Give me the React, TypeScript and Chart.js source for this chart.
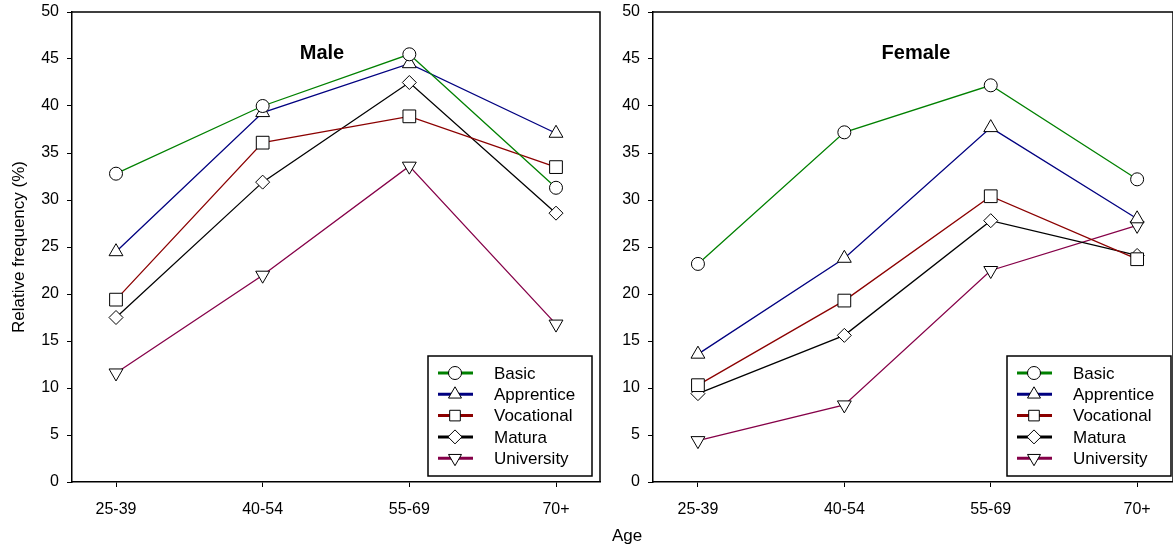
import React, { useEffect, useRef } from 'react';
import { Chart, registerables } from 'chart.js';

Chart.register(...registerables);

const FONT = 'Arial, "Liberation Sans", sans-serif';

// ---- data ----
const ageGroups = ['25-39', '40-54', '55-69', '70+'];
const seriesNames = ['Basic', 'Apprentice', 'Vocational', 'Matura', 'University'];
const seriesColors = ['#008000', '#000080', '#8b0000', '#000000', '#850048'];
const seriesStyles = ['circle', 'triangle', 'rect', 'rectRot', 'triangle'];
const seriesRotation = [0, 0, 0, 0, 180];
const seriesRadius = [6.5, 8, 9, 7, 8];

const maleBasic = [32.8, 40.0, 45.5, 31.3];
const maleApprentice = [24.5, 39.3, 44.5, 37.1];
const maleVocational = [19.4, 36.1, 38.9, 33.5];
const maleMatura = [17.5, 31.9, 42.5, 28.6];
const maleUniversity = [11.6, 22.0, 33.6, 16.8];

const femaleBasic = [23.2, 37.2, 42.2, 32.2];
const femaleApprentice = [13.6, 23.8, 37.7, 28.0];
const femaleVocational = [10.3, 19.3, 30.4, 23.7];
const femaleMatura = [9.4, 15.6, 27.8, 24.1];
const femaleUniversity = [4.4, 8.2, 22.5, 27.3];

const maleSeries = [maleBasic, maleApprentice, maleVocational, maleMatura, maleUniversity];
const femaleSeries = [femaleBasic, femaleApprentice, femaleVocational, femaleMatura, femaleUniversity];

const yTickValues = [0, 5, 10, 15, 20, 25, 30, 35, 40, 45, 50];

function drawMarker(ctx: CanvasRenderingContext2D, style: string, rot: number, r: number, x: number, y: number) {
  ctx.beginPath();
  if (style === 'circle') {
    ctx.arc(x, y, r, 0, Math.PI * 2);
  } else if (style === 'triangle') {
    let rad = (rot * Math.PI) / 180;
    for (let i = 0; i < 3; i++) {
      const px = x + Math.sin(rad) * r;
      const py = y - Math.cos(rad) * r;
      if (i === 0) ctx.moveTo(px, py);
      else ctx.lineTo(px, py);
      rad += (2 * Math.PI) / 3;
    }
    ctx.closePath();
  } else if (style === 'rect') {
    const s = Math.SQRT1_2 * r;
    ctx.rect(x - s, y - s, 2 * s, 2 * s);
  } else if (style === 'rectRot') {
    ctx.moveTo(x, y - r);
    ctx.lineTo(x + r, y);
    ctx.lineTo(x, y + r);
    ctx.lineTo(x - r, y);
    ctx.closePath();
  }
  ctx.fillStyle = '#ffffff';
  ctx.fill();
  ctx.lineWidth = 1;
  ctx.strokeStyle = '#000000';
  ctx.stroke();
}

const panelPlugin = {
  id: 'panelDecor',
  beforeDatasetsDraw(chart: any) {
    const { ctx, chartArea } = chart;
    ctx.save();
    ctx.strokeStyle = '#000';
    ctx.lineWidth = 1.5;
    ctx.beginPath();
    ctx.moveTo(chartArea.left, chartArea.top);
    ctx.lineTo(chartArea.right, chartArea.top);
    ctx.lineTo(chartArea.right, chartArea.bottom);
    ctx.stroke();
    ctx.restore();
  },
  afterDraw(chart: any) {
    const { ctx, chartArea } = chart;
    const opts = chart.options.plugins.panelDecor || {};
    ctx.save();
    // panel title
    ctx.font = `bold 20px ${FONT}`;
    ctx.fillStyle = '#000';
    ctx.textAlign = 'center';
    ctx.textBaseline = 'middle';
    ctx.fillText(opts.title, opts.titleX, chartArea.top + 41);

    // legend box
    const boxW = 164;
    const boxH = 120;
    const boxRight = opts.legendRight;
    const boxBottom = chartArea.bottom - 6;
    const bx = boxRight - boxW;
    const by = boxBottom - boxH;
    ctx.fillStyle = '#fff';
    ctx.fillRect(bx, by, boxW, boxH);
    ctx.strokeStyle = '#000';
    ctx.lineWidth = 1.5;
    ctx.strokeRect(bx, by, boxW, boxH);

    chart.data.datasets.forEach((ds: any, i: number) => {
      const cy = by + 17 + i * 21.3;
      ctx.strokeStyle = ds.borderColor;
      ctx.lineWidth = 3;
      ctx.beginPath();
      ctx.moveTo(bx + 10, cy);
      ctx.lineTo(bx + 45, cy);
      ctx.stroke();
      drawMarker(ctx, ds.pointStyle, ds.pointRotation || 0, Math.min(ds.pointRadius, 7.5), bx + 27, cy);
      ctx.fillStyle = '#000';
      ctx.font = `17px ${FONT}`;
      ctx.textAlign = 'left';
      ctx.textBaseline = 'middle';
      ctx.fillText(ds.label, bx + 66, cy + 1);
    });
    ctx.restore();
  },
};

type PanelProps = {
  series: number[][];
  title: string;
  titleX: number;
  yAxisWidth: number;
  showYTitle: boolean;
  xMin: number;
  xMax: number;
  padRight: number;
  legendRight: number;
  width: number;
};

function Panel(props: PanelProps) {
  const ref = useRef<HTMLCanvasElement | null>(null);
  useEffect(() => {
    if (!ref.current) return;
    const datasets = props.series.map((vals, si) => ({
      label: seriesNames[si],
      data: vals.map((v, i) => ({ x: i, y: v })),
      borderColor: seriesColors[si],
      backgroundColor: seriesColors[si],
      borderWidth: 1.3,
      pointStyle: seriesStyles[si],
      pointRotation: seriesRotation[si],
      pointRadius: seriesRadius[si],
      pointBackgroundColor: '#ffffff',
      pointBorderColor: '#000000',
      pointBorderWidth: 1,
      tension: 0,
    }));
    const chart = new Chart(ref.current, {
      type: 'line',
      data: { datasets },
      plugins: [panelPlugin],
      options: {
        animation: false,
        responsive: false,
        maintainAspectRatio: false,
        layout: { padding: { top: 12, right: props.padRight, left: 0, bottom: 0 } },
        plugins: {
          legend: { display: false },
          tooltip: { enabled: false },
          title: { display: false },
          panelDecor: { title: props.title, titleX: props.titleX, legendRight: props.legendRight },
        } as any,
        scales: {
          x: {
            type: 'linear',
            min: props.xMin,
            max: props.xMax,
            afterBuildTicks: (scale: any) => {
              scale.ticks = ageGroups.map((_, i) => ({ value: i }));
            },
            afterFit: (scale: any) => {
              scale.height = 64;
              scale.paddingLeft = 0;
              scale.paddingRight = 0;
            },
            ticks: {
              callback: (v: any) => ageGroups[v] ?? '',
              color: '#000',
              font: { family: FONT, size: 16 },
              padding: 13,
              maxRotation: 0,
              autoSkip: false,
            },
            grid: { drawOnChartArea: false, drawTicks: true, tickLength: 5, color: '#000', lineWidth: 1 },
            border: { display: true, color: '#000', width: 1.5 },
          },
          y: {
            type: 'linear',
            min: 0,
            max: 50,
            afterBuildTicks: (scale: any) => {
              scale.ticks = yTickValues.map((v) => ({ value: v }));
            },
            afterFit: (scale: any) => {
              scale.width = props.yAxisWidth;
              scale.paddingTop = 0;
              scale.paddingBottom = 0;
            },
            ticks: {
              color: '#000',
              font: { family: FONT, size: 16 },
              padding: 8,
            },
            grid: { drawOnChartArea: false, drawTicks: true, tickLength: 5, color: '#000', lineWidth: 1 },
            border: { display: true, color: '#000', width: 1.5 },
            title: {
              display: props.showYTitle,
              text: 'Relative frequency (%)',
              color: '#000',
              font: { family: FONT, size: 17 },
              padding: { top: 9, bottom: 0 },
            },
          },
        },
      } as any,
    });
    return () => chart.destroy();
  }, []);
  return <canvas ref={ref} width={props.width} height={546} style={{ display: 'block' }} />;
}

export default function App() {
  return (
    <div
      style={{
        position: 'fixed',
        left: 0,
        top: 0,
        width: 1173,
        height: 546,
        background: '#fff',
        overflow: 'hidden',
      }}
    >
      <div style={{ position: 'absolute', left: 0, top: 0, width: 610, height: 546 }}>
        <Panel
          series={maleSeries}
          title="Male"
          titleX={322}
          yAxisWidth={72}
          showYTitle={true}
          xMin={-0.3}
          xMax={3.3}
          padRight={10}
          legendRight={592}
          width={610}
        />
      </div>
      <div style={{ position: 'absolute', left: 610, top: 0, width: 573, height: 546 }}>
        <Panel
          series={femaleSeries}
          title="Female"
          titleX={306}
          yAxisWidth={43}
          showYTitle={false}
          xMin={-0.307}
          xMax={3.245}
          padRight={0}
          legendRight={561}
          width={573}
        />
      </div>
      <div
        style={{
          position: 'absolute',
          left: 577,
          top: 526,
          width: 100,
          textAlign: 'center',
          fontFamily: FONT,
          fontSize: 17,
          lineHeight: '20px',
          color: '#000',
        }}
      >
        Age
      </div>
    </div>
  );
}
